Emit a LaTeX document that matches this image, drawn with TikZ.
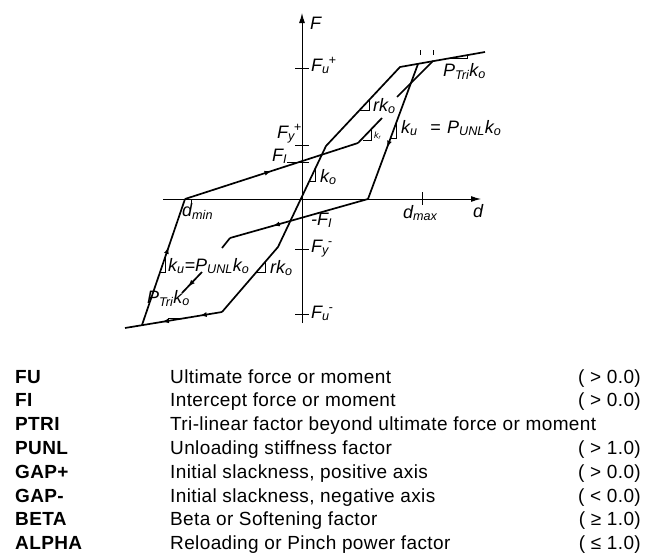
\documentclass[tikz,border=0pt]{standalone}
\usepackage{fontspec}
\setmainfont{Liberation Sans}
\newfontfamily\tabfont{Liberation Sans}[LetterSpace=2]
\usetikzlibrary{arrows.meta,decorations.markings}
\newcommand{\Fsym}[3]{\textit{#1}\textsubscript{\textit{#2}}\kern-1pt\textsuperscript{\textit{#3}}}
\newcommand{\kfac}[1]{\textit{k}\textsubscript{\textit{#1}}}
\tikzset{
  axisline/.style={line width=1pt,-{Latex[length=10pt,width=6pt]}},
  loopline/.style={line width=1.7pt,line join=round},
  slopetri/.style={line width=0.7pt},
  tickline/.style={line width=0.9pt},
  lbl/.style={font=\fontsize{18}{20}\selectfont\itshape,inner sep=0pt,anchor=base west},
  flowarrow/.style={postaction={decorate,decoration={markings,mark=at position #1 with {\arrow{Latex[length=7pt,width=5pt]}}}}}
}

\begin{document}
\begin{tikzpicture}[x=1pt,y=-1pt]
\useasboundingbox (0,0) rectangle (646,554);
% axes
\coordinate (dstart) at (163,199);
\coordinate (dend) at (481,199);
\coordinate (Fstart) at (302,323);
\coordinate (Fend) at (302,13);
\draw[axisline] (dstart) -- (dend);
\draw[axisline] (Fstart) -- (Fend);
\draw[tickline] (295,68) -- (309,68);
\draw[tickline] (295,145) -- (309,145);
\draw[tickline] (287,162) -- (309,162);
\draw[tickline] (295,249) -- (309,249);
\draw[tickline] (295,314) -- (309,314);
\draw[tickline] (422,192) -- (422,205);
\draw[tickline] (191,199) -- (191,205);
\draw[tickline] (420,50) -- (420,55);
\draw[tickline] (433,50) -- (433,55);
% hysteresis loop
\coordinate (envL) at (125,328);
\coordinate (unlN) at (142,325);
\coordinate (ultN) at (222,312);
\coordinate (yldN) at (278,247);
\coordinate (yldP) at (326,146);
\coordinate (ultP) at (400,67);
\coordinate (unlP) at (418,64);
\coordinate (envR) at (485,52);
\coordinate (dmin) at (185,199);
\coordinate (dzero) at (368,199);
\coordinate (relP1) at (358,143);
\coordinate (relP2) at (382,118);
\coordinate (relP3) at (397,97);
\coordinate (relP4) at (433,61);
\coordinate (relN1) at (230,238);
\coordinate (relN2) at (222,248);
\coordinate (relN3) at (202,272);
\coordinate (relN4) at (182,293);
\draw[loopline] (ultN) -- (yldN) -- (yldP) -- (ultP) -- (envR);
\draw[loopline,flowarrow=0.23,flowarrow=0.62] (ultN) -- (envL);
\draw[loopline,flowarrow=0.62] (unlP) -- (dzero);
\draw[loopline,flowarrow=0.69] (dzero) -- (relN1);
\draw[loopline] (relN1) -- (relN2);
\draw[loopline,flowarrow=0.7] (relN3) -- (relN4);
\draw[loopline,flowarrow=0.62] (unlN) -- (dmin);
\draw[loopline,flowarrow=0.5] (dmin) -- (relP1);
\draw[loopline] (relP1) -- (relP2);
\draw[loopline] (relP3) -- (relP4);
% slope triangles
\draw[slopetri] (309.4,181) -| (315,169);
\draw[slopetri] (359.7,110) -| (369.1,100);
\draw[slopetri] (362.6,140) -| (371.4,130);
\draw[slopetri] (390.6,138) -| (396.5,122);
\draw[slopetri] (447,58.7) -| (467,55.2);
\draw[slopetri] (160.1,272) -| (164.9,258);
\draw[slopetri] (256.5,272) -| (265.1,262);
\draw[slopetri] (182,318.6) -| (168,320.9);
% labels
\node[lbl] (labF) at (310,30) {F};
\node[lbl] (labFuP) at (311,71) {\Fsym{F}{u}{+}};
\node[lbl] (labFyP) at (277,138) {\Fsym{F}{y}{+}};
\node[lbl] (labFI) at (272,161) {\Fsym{F}{I}{}};
\node[lbl] (labko) at (320,182) {\kfac{o}};
\node[lbl] (labrkP) at (373,111) {r\kfac{o}};
\node[lbl,font=\fontsize{9}{10}\selectfont\itshape] (labkr) at (374,138) {\kfac{r}};
\node[lbl] (labkuP) at (401,133) {\kfac{u}};
\node[lbl] (labeq) at (430,133) {=};
\node[lbl] (labPunlP) at (447,133) {P\textsubscript{UNL}\kfac{o}};
\node[lbl] (labPtriP) at (443,76) {P\textsubscript{Tri}\kfac{o}};
\node[lbl] (labdmin) at (182,216) {d\textsubscript{min}};
\node[lbl] (labdmax) at (403,218) {d\textsubscript{max}};
\node[lbl] (labd) at (473,217) {d};
\node[lbl] (labFIN) at (311,225) {-\Fsym{F}{I}{}};
\node[lbl] (labFyN) at (311,252) {\Fsym{F}{y}{-}};
\node[lbl] (labFuN) at (311,318) {\Fsym{F}{u}{-}};
\node[lbl] (labkuN) at (168,271) {\kfac{u}=P\textsubscript{UNL}\kfac{o}};
\node[lbl] (labrkN) at (270,273) {r\kfac{o}};
\node[lbl] (labPtriN) at (147,303) {P\textsubscript{Tri}\kfac{o}};
% parameter list
\node[anchor=base west,inner sep=0pt,font=\tabfont\fontsize{19}{23.8}\selectfont] (params) at (15,383) {%
\begin{tabular}[t]{@{}p{155pt}@{}p{408pt}@{}r@{}}
\textbf{FU} & Ultimate force or moment & ( > 0.0)\\
\textbf{FI} & Intercept force or moment & ( > 0.0)\\
\textbf{PTRI} & \multicolumn{2}{@{}l@{}}{Tri-linear factor beyond ultimate force or moment}\\
\textbf{PUNL} & Unloading stiffness factor & ( > 1.0)\\
\textbf{GAP+} & Initial slackness, positive axis & ( > 0.0)\\
\textbf{GAP-} & Initial slackness, negative axis & ( < 0.0)\\
\textbf{BETA} & Beta or Softening factor & ( ≥ 1.0)\\
\textbf{ALPHA} & Reloading or Pinch power factor & ( ≤ 1.0)
\end{tabular}};
\end{tikzpicture}
\end{document}
